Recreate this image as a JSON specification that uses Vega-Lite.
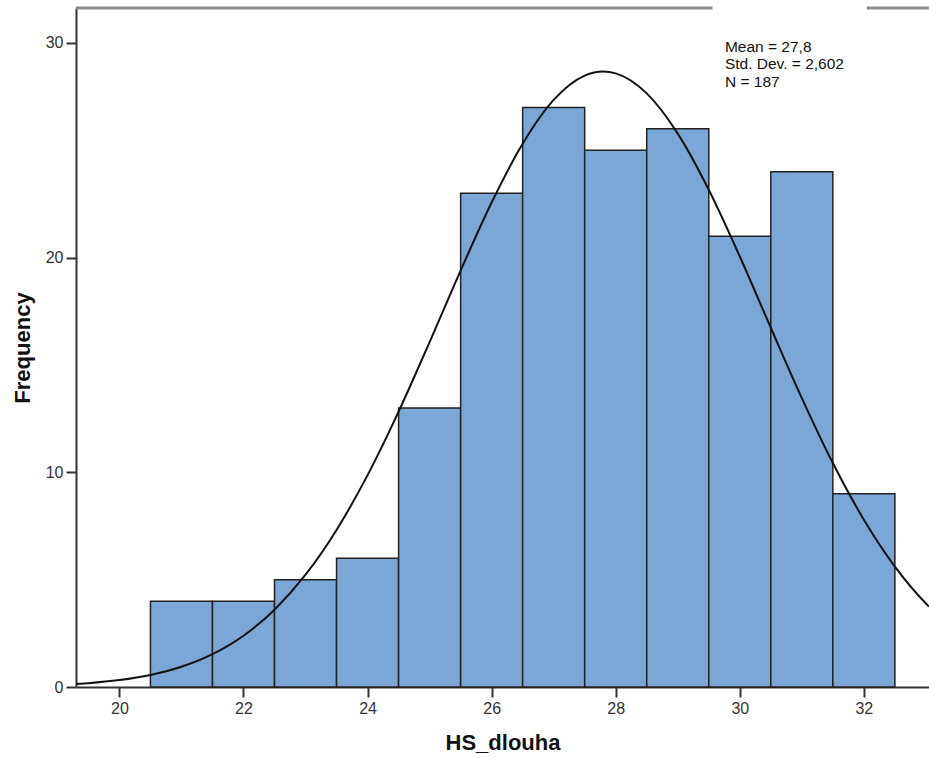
{
  "$schema": "https://vega.github.io/schema/vega-lite/v6.json",
  "width": 853,
  "height": 679,
  "autosize": {"type": "none"},
  "padding": {"left": 76, "top": 8, "right": 0, "bottom": 71},
  "background": "white",
  "config": {
    "view": {"stroke": null},
    "font": "Liberation Sans",
    "axis": {
      "grid": false,
      "domainColor": "#333333",
      "domainWidth": 2,
      "tickColor": "#333333",
      "tickWidth": 2,
      "tickSize": 10,
      "labelFont": "Liberation Sans",
      "labelFontSize": 16,
      "labelColor": "#333333",
      "labelPadding": 3,
      "titleFont": "Liberation Sans",
      "titleFontSize": 22,
      "titleFontWeight": "bold",
      "titleColor": "#111111",
      "format": "d"
    }
  },
  "datasets": {
    "bins": [
      {"lo": 20.5, "hi": 21.5, "count": 4},
      {"lo": 21.5, "hi": 22.5, "count": 4},
      {"lo": 22.5, "hi": 23.5, "count": 5},
      {"lo": 23.5, "hi": 24.5, "count": 6},
      {"lo": 24.5, "hi": 25.5, "count": 13},
      {"lo": 25.5, "hi": 26.5, "count": 23},
      {"lo": 26.5, "hi": 27.5, "count": 27},
      {"lo": 27.5, "hi": 28.5, "count": 25},
      {"lo": 28.5, "hi": 29.5, "count": 26},
      {"lo": 29.5, "hi": 30.5, "count": 21},
      {"lo": 30.5, "hi": 31.5, "count": 24},
      {"lo": 31.5, "hi": 32.5, "count": 9}
    ],
    "curve": [
      {"x": 19.3, "f": 0.138},
      {"x": 19.5, "f": 0.177},
      {"x": 20.0, "f": 0.321},
      {"x": 20.5, "f": 0.560},
      {"x": 21.0, "f": 0.943},
      {"x": 21.5, "f": 1.529},
      {"x": 22.0, "f": 2.390},
      {"x": 22.5, "f": 3.602},
      {"x": 23.0, "f": 5.230},
      {"x": 23.5, "f": 7.318},
      {"x": 24.0, "f": 9.870},
      {"x": 24.5, "f": 12.828},
      {"x": 25.0, "f": 16.069},
      {"x": 25.5, "f": 19.399},
      {"x": 26.0, "f": 22.569},
      {"x": 26.5, "f": 25.307},
      {"x": 27.0, "f": 27.348},
      {"x": 27.5, "f": 28.481},
      {"x": 27.8, "f": 28.671},
      {"x": 28.0, "f": 28.586},
      {"x": 28.5, "f": 27.652},
      {"x": 29.0, "f": 25.778},
      {"x": 29.5, "f": 23.160},
      {"x": 30.0, "f": 20.054},
      {"x": 30.5, "f": 16.735},
      {"x": 31.0, "f": 13.459},
      {"x": 31.5, "f": 10.432},
      {"x": 32.0, "f": 7.792},
      {"x": 32.5, "f": 5.610},
      {"x": 33.0, "f": 3.892},
      {"x": 33.05, "f": 3.745}
    ],
    "frame": [
      {"a": 19.3, "b": 29.56},
      {"a": 32.05, "b": 33.05}
    ],
    "stats": [
      {"lines": ["Mean = 27,8", "Std. Dev. = 2,602", "N = 187"]}
    ]
  },
  "layer": [
    {
      "data": {"name": "bins"},
      "mark": {"type": "rect", "fill": "#7aa7d6", "stroke": "#222222", "strokeWidth": 1.5},
      "encoding": {
        "x": {
          "field": "lo", "type": "quantitative",
          "scale": {"domain": [19.3, 33.05], "nice": false, "zero": false},
          "axis": {"values": [20, 22, 24, 26, 28, 30, 32], "title": "HS_dlouha", "titlePadding": 16}
        },
        "x2": {"field": "hi"},
        "y": {
          "field": "count", "type": "quantitative",
          "scale": {"domain": [0, 31.63], "nice": false},
          "axis": {"values": [0, 10, 20, 30], "title": "Frequency", "titlePadding": 11}
        },
        "y2": {"datum": 0}
      }
    },
    {
      "data": {"name": "curve"},
      "mark": {"type": "line", "color": "#111111", "strokeWidth": 2, "interpolate": "monotone", "clip": true},
      "encoding": {
        "x": {"field": "x", "type": "quantitative"},
        "y": {"field": "f", "type": "quantitative"}
      }
    },
    {
      "data": {"name": "frame"},
      "mark": {"type": "rule", "color": "#8a8a8a", "strokeWidth": 3},
      "encoding": {
        "x": {"field": "a", "type": "quantitative"},
        "x2": {"field": "b"},
        "y": {"datum": 31.63}
      }
    },
    {
      "data": {"name": "stats"},
      "mark": {"type": "text", "align": "left", "baseline": "top", "fontSize": 15.5, "lineHeight": 17.5, "color": "#111111", "font": "Liberation Sans"},
      "encoding": {
        "x": {"datum": 29.76},
        "y": {"datum": 30.15},
        "text": {"field": "lines"}
      }
    }
  ]
}
